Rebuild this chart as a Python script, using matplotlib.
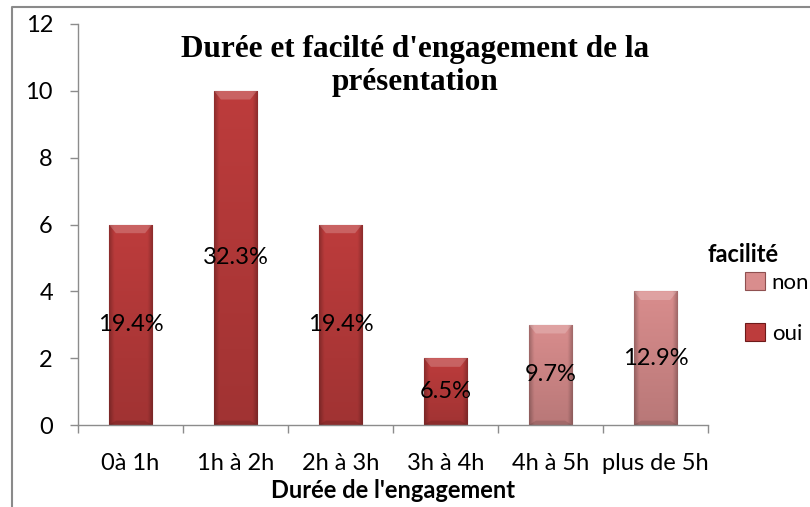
import numpy as np
import matplotlib.pyplot as plt
from matplotlib.patches import Polygon
from matplotlib.lines import Line2D
from matplotlib.colors import to_rgb

# données
categories = ['0à 1h', '1h à 2h', '2h à 3h', '3h à 4h', '4h à 5h', 'plus de 5h']
oui = [6, 10, 6, 2, 0, 0]
non = [0, 0, 0, 0, 3, 4]
etiquettes = ['19.4%', '32.3%', '19.4%', '6.5%', '9.7%', '12.9%']

couleurs = {'oui': ('#6e1a1a', '#bd3c3c'), 'non': ('#8f5050', '#d98d8d')}
gris = '#8c8c8c'
police = ['Lato', 'DejaVu Sans']

fig = plt.figure(figsize=(8.1, 5.07), dpi=100)
ax = fig.add_axes([78 / 810, 1 - 425 / 507, 630 / 810, 401 / 507])

x = np.arange(len(categories))
largeur = 0.41


def barre_degrade(ax, barres, sombre, clair):
    base = np.array(to_rgb(clair))
    u = np.linspace(0, 1, 80)
    fx = np.clip(np.minimum(u, 1 - u) / 0.12, 0, 1) * 0.25 + 0.75
    v = np.linspace(0, 1, 80).reshape(-1, 1)   # 0 = haut
    gy = 1 - 0.15 * v
    img = np.clip(base[None, None, :] * (fx[None, :, None] * gy[:, :, None]), 0, 1)
    for b in barres:
        h = b.get_height()
        if h <= 0:
            continue
        x0, w = b.get_x(), b.get_width()
        im = ax.imshow(img, aspect='auto', extent=[x0, x0 + w, 0, h],
                       zorder=2, interpolation='bilinear')
        im.set_clip_path(b)
        # biseau du haut
        dx, dy = w * 0.16, 0.26
        haut = Polygon([[x0, h], [x0 + w, h], [x0 + w - dx, h - dy], [x0 + dx, h - dy]],
                       closed=True, facecolor='white', alpha=0.2, edgecolor='none', zorder=3)
        ax.add_patch(haut)
        bas = Polygon([[x0, 0], [x0 + w, 0], [x0 + w - dx, dy * 0.5], [x0 + dx, dy * 0.5]],
                      closed=True, facecolor='black', alpha=0.12, edgecolor='none', zorder=3)
        ax.add_patch(bas)


b_non = ax.bar(x, non, largeur, color=couleurs['non'][1], edgecolor=couleurs['non'][0],
               linewidth=0.8, label='non', zorder=2)
b_oui = ax.bar(x, oui, largeur, color=couleurs['oui'][1], edgecolor=couleurs['oui'][0],
               linewidth=0.8, label='oui', zorder=2)
barre_degrade(ax, b_non, *couleurs['non'])
barre_degrade(ax, b_oui, *couleurs['oui'])

totaux = np.array(oui) + np.array(non)
for i, t in enumerate(totaux):
    ax.text(x[i], t / 2, etiquettes[i], ha='center', va='center', fontsize=17,
            family=police, color='black', zorder=5)

ax.set_xlim(-0.5, len(categories) - 0.5)
ax.set_ylim(0, 12)
ax.set_yticks(range(0, 13, 2))
ax.set_xticks(x)
ax.set_xticklabels(categories, family=police, fontsize=17)
ax.set_xticks(np.arange(-0.5, len(categories)), minor=True)
ax.tick_params(axis='x', which='major', length=0, pad=20)
ax.tick_params(axis='x', which='minor', length=6, color=gris, width=1)
ax.tick_params(axis='y', length=6, color=gris, width=1, labelsize=17, pad=12)
for lab in ax.get_yticklabels():
    lab.set_family(police)
for s in ['top', 'right']:
    ax.spines[s].set_visible(False)
for s in ['left', 'bottom']:
    ax.spines[s].set_color(gris)
    ax.spines[s].set_linewidth(1)

ax.set_xlabel("Durée de l'engagement", family=police, fontsize=17, fontweight='bold', labelpad=4)

fig.text(0.512, 1 - 66 / 507, "Durée et facilté d'engagement de la\nprésentation",
         ha='center', va='center', family='Liberation Serif', fontweight='bold',
         fontsize=22.5, linespacing=1.2)

# légende
fig.text(707 / 810, 1 - 254 / 507, 'facilité', family=police, fontsize=17,
         fontweight='bold', ha='left', va='center')
leg = fig.legend(handles=[b_non, b_oui], labels=['non', 'oui'], loc='upper left',
                 bbox_to_anchor=(745 / 810, 1 - 272 / 507), frameon=False,
                 prop={'family': police, 'size': 16}, borderaxespad=0, borderpad=0,
                 handlelength=0.9, handleheight=0.9, handletextpad=0.3, labelspacing=1.35)

# cadre
fig.add_artist(Line2D([12 / 810, 12 / 810, 1], [0, 1 - 7 / 507, 1 - 7 / 507],
                      transform=fig.transFigure, color='#8a8a8a', linewidth=1.5))

fig.savefig('out.png', dpi=100)
